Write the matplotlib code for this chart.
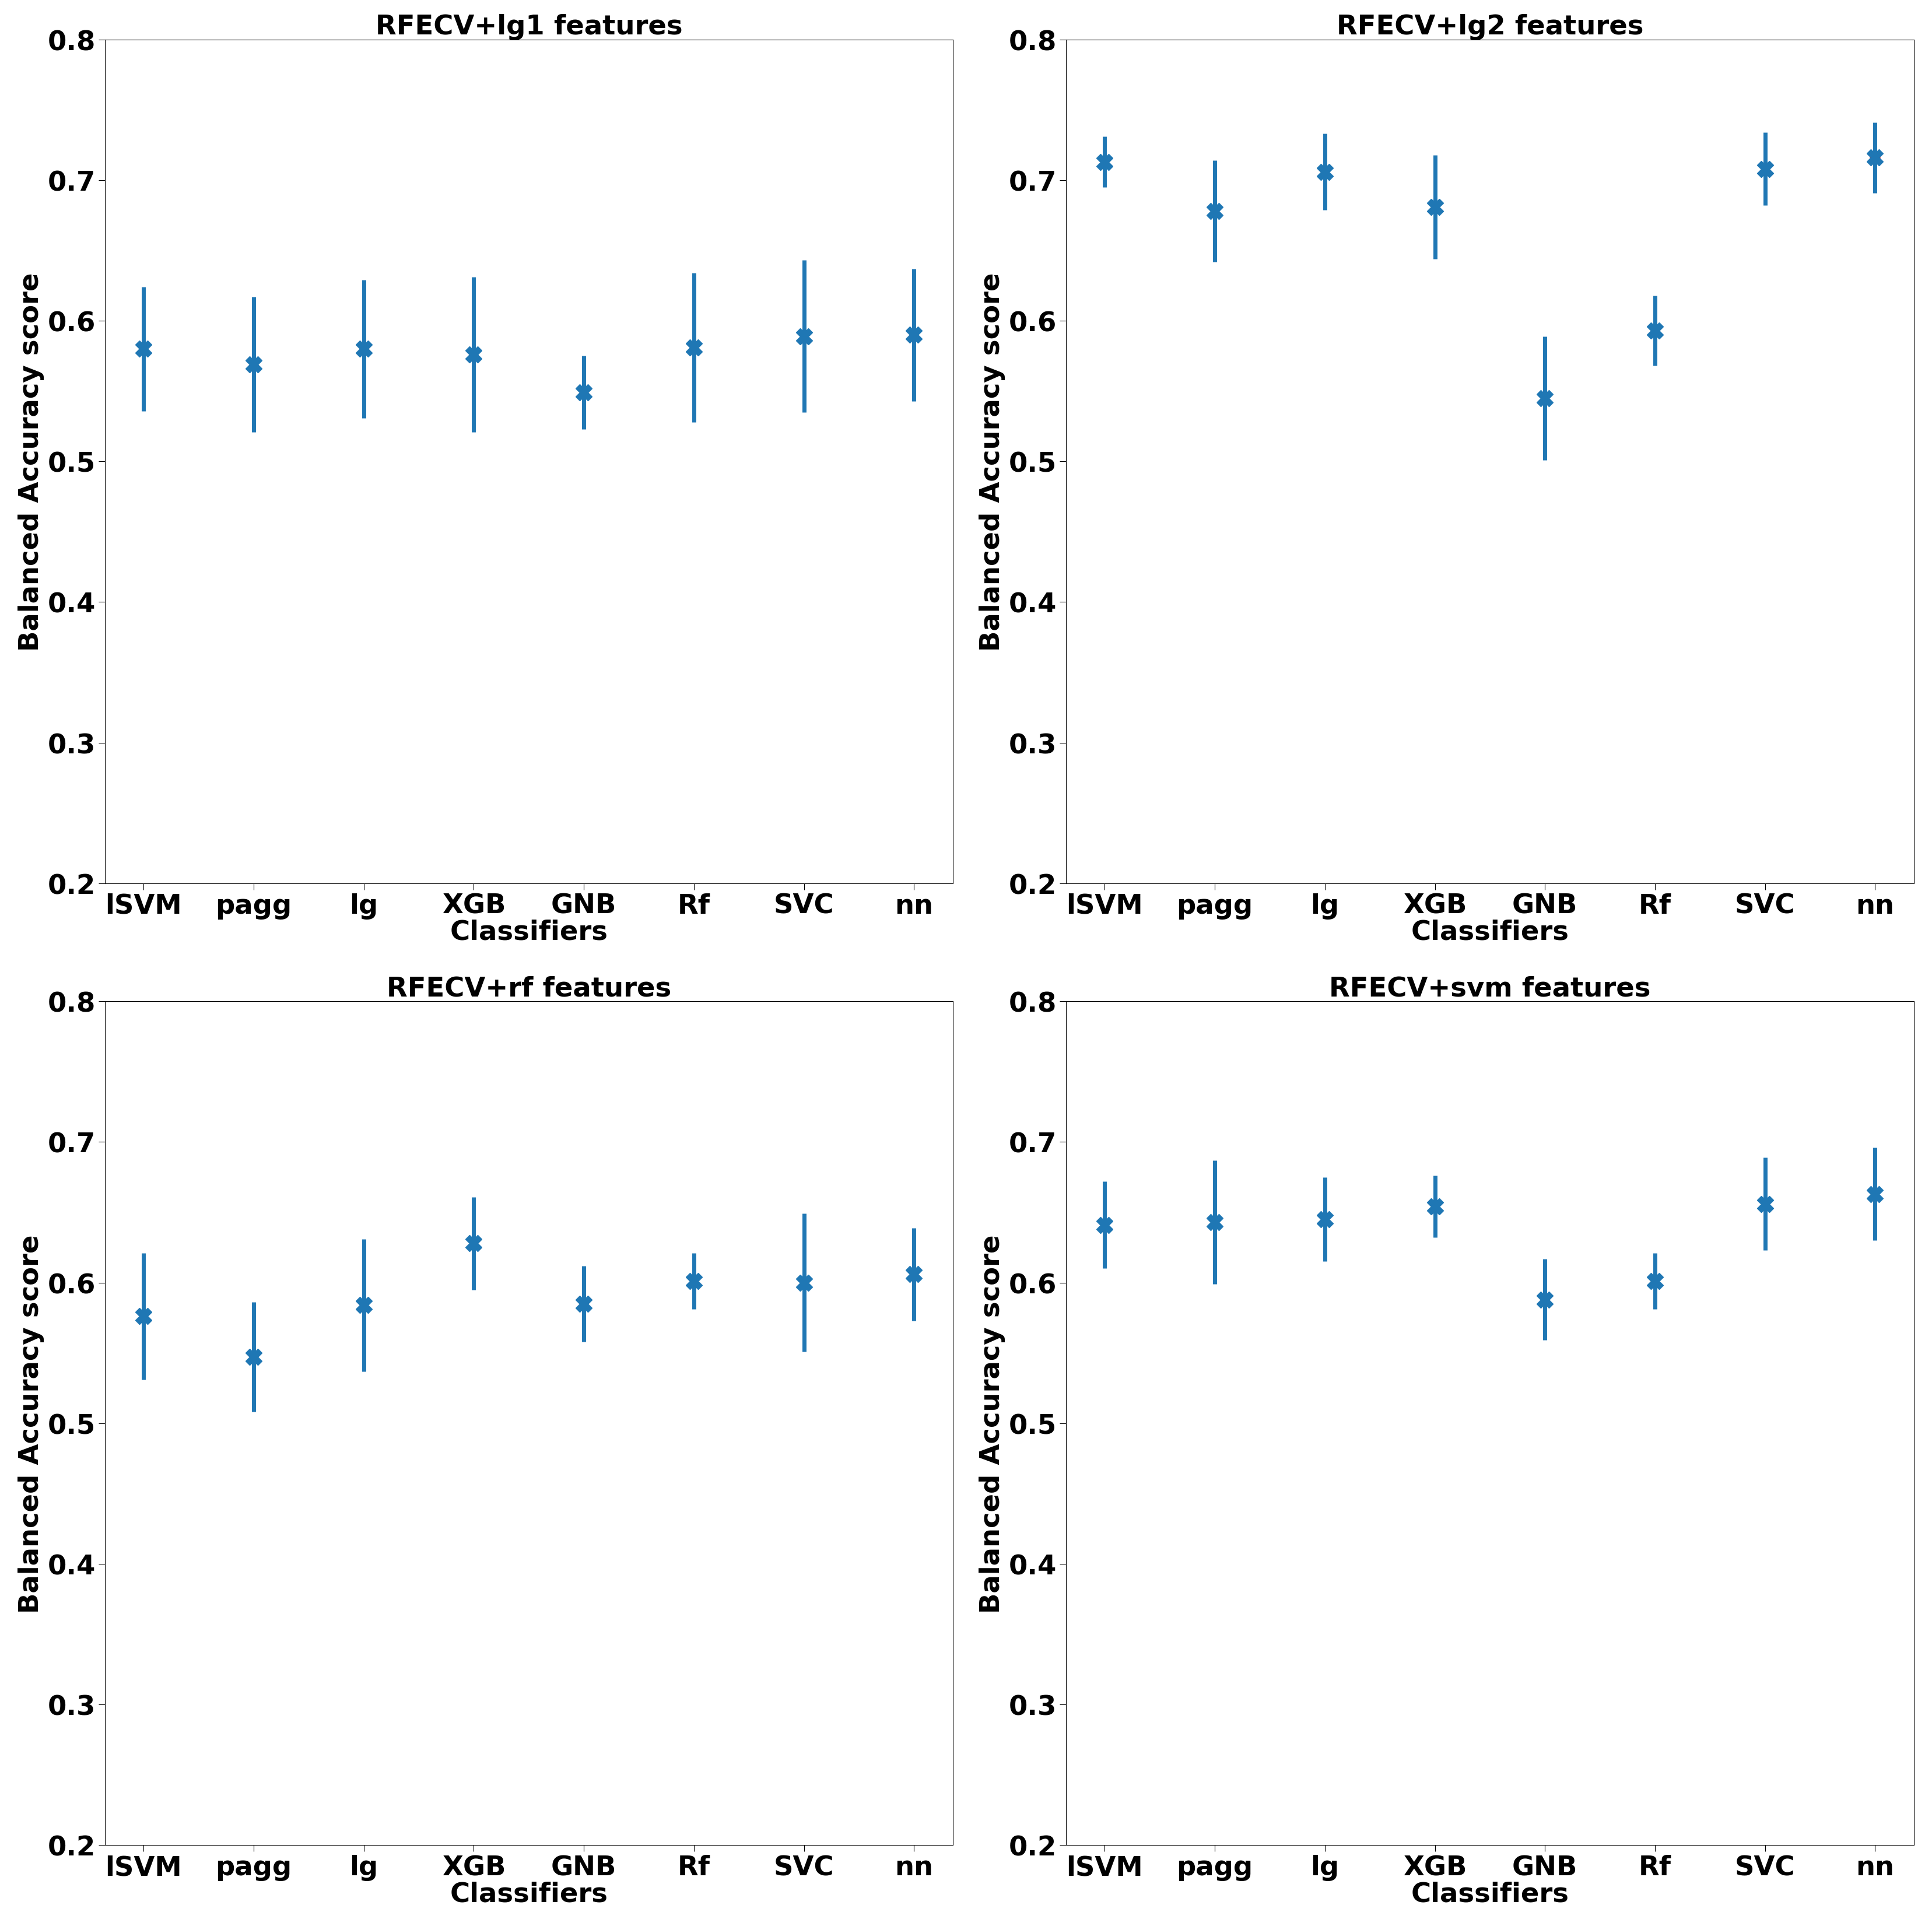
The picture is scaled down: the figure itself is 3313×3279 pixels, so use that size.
import numpy as np
import matplotlib
matplotlib.use("Agg")
import matplotlib.pyplot as plt

classifiers = ['lSVM', 'pagg', 'lg', 'XGB', 'GNB', 'Rf', 'SVC', 'nn']

titles = ['RFECV+lg1 features', 'RFECV+lg2 features',
          'RFECV+rf features', 'RFECV+svm features']

# mean balanced accuracy per classifier
lg1_mean = [0.580, 0.569, 0.580, 0.576, 0.549, 0.581, 0.589, 0.590]
lg2_mean = [0.713, 0.678, 0.706, 0.681, 0.545, 0.593, 0.708, 0.716]
rf_mean = [0.576, 0.547, 0.584, 0.628, 0.585, 0.601, 0.600, 0.606]
svm_mean = [0.641, 0.643, 0.645, 0.654, 0.588, 0.601, 0.656, 0.663]

# std (error bars)
lg1_std = [0.044, 0.048, 0.049, 0.055, 0.026, 0.053, 0.054, 0.047]
lg2_std = [0.018, 0.036, 0.027, 0.037, 0.044, 0.025, 0.026, 0.025]
rf_std = [0.045, 0.039, 0.047, 0.033, 0.027, 0.020, 0.049, 0.033]
svm_std = [0.031, 0.044, 0.030, 0.022, 0.029, 0.020, 0.033, 0.033]

means = [lg1_mean, lg2_mean, rf_mean, svm_mean]
stds = [lg1_std, lg2_std, rf_std, svm_std]

plt.rcParams['font.weight'] = 'bold'
fs = 33.5

fig, axes = plt.subplots(2, 2, figsize=(33.13, 32.8), dpi=100)
fig.subplots_adjust(left=0.0544, right=0.9905, top=0.979, bottom=0.035,
                    wspace=0.134, hspace=0.14)

x = np.arange(len(classifiers))
for i, ax in enumerate(axes.flat):
    if i == 1:
        # best classifier highlighted in red behind the marker
        best = int(np.argmax(means[i]))
        ax.plot(x[best], means[i][best], 'o', color='red', markersize=12, zorder=1)
    ax.errorbar(x, means[i], yerr=stds[i], fmt='X', color='tab:blue',
                markersize=20, elinewidth=5, linestyle='none', zorder=2)
    ax.set_ylim(0.2, 0.8)
    ax.set_xticks(x)
    ax.set_xticklabels(classifiers, fontsize=fs, fontweight='bold')
    ax.set_yticks([0.2, 0.3, 0.4, 0.5, 0.6, 0.7, 0.8])
    ax.set_yticklabels(['0.2', '0.3', '0.4', '0.5', '0.6', '0.7', '0.8'],
                       fontsize=fs, fontweight='bold')
    ax.set_xlabel('Classifiers', fontsize=fs, fontweight='bold', labelpad=0)
    ax.set_ylabel('Balanced Accuracy score', fontsize=fs, fontweight='bold')
    ax.set_title(titles[i], fontsize=fs, fontweight='bold')
    ax.tick_params(length=8)

plt.savefig('out.png')
